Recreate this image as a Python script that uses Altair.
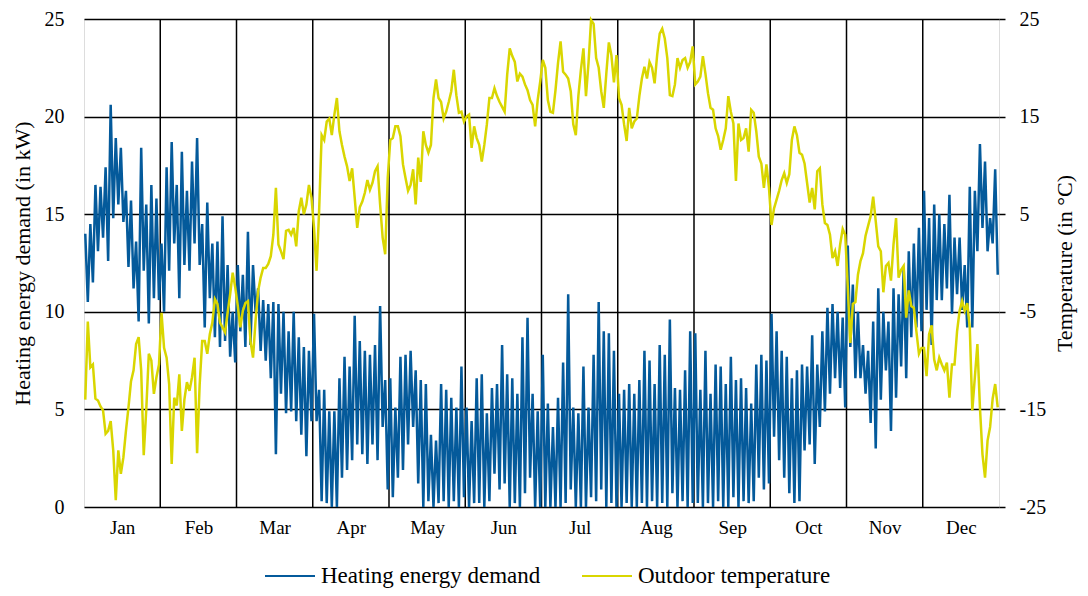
import altair as alt
import pandas as pd

MONTHS = ["Jan", "Feb", "Mar", "Apr", "May", "Jun", "Jul", "Aug", "Sep", "Oct", "Nov", "Dec"]
SERIES = ["Heating energy demand", "Outdoor temperature"]
BLUE = "#045A9B"
YELLOW = "#D9D600"
FONT = "Liberation Serif"

# Heating energy demand (kW): high / low envelope, 15 bins per month
jan_hi = [14.0, 14.5, 16.5, 16.4, 17.4, 20.6, 18.9, 18.4, 16.2, 15.7, 13.6, 18.4, 15.5, 16.5, 15.8]
jan_lo = [10.5, 11.5, 13.1, 13.8, 12.6, 14.8, 15.5, 14.6, 12.3, 11.2, 9.5, 12.1, 9.4, 10.7, 10.6]
feb_hi = [13.5, 17.4, 18.7, 16.5, 18.2, 16.2, 17.7, 18.9, 14.5, 15.6, 13.5, 13.6, 14.9, 12.4, 10.0]
feb_lo = [10.0, 12.1, 13.5, 10.7, 12.4, 12.1, 13.5, 12.4, 9.2, 10.7, 8.7, 8.2, 8.5, 7.7, 7.4]
mar_hi = [12.4, 11.9, 14.1, 12.4, 11.2, 10.6, 10.4, 10.5, 10.4, 10.0, 9.0, 10.0, 8.7, 8.2, 8.0]
mar_lo = [9.0, 8.2, 8.3, 10.0, 8.0, 7.5, 6.6, 2.7, 5.8, 4.8, 4.9, 4.4, 3.7, 2.6, 4.4]
apr_hi = [9.9, 6.0, 6.0, 4.9, 4.9, 6.6, 7.7, 7.2, 9.8, 8.5, 8.0, 7.8, 8.3, 10.3, 6.5]
apr_lo = [4.4, 0.3, 0.2, 0.0, 0.0, 1.5, 1.9, 2.4, 3.2, 2.7, 2.2, 3.2, 2.4, 4.1, 0.9]
may_hi = [6.6, 5.1, 7.7, 7.8, 8.0, 7.0, 6.5, 6.3, 3.7, 3.4, 6.3, 6.0, 5.6, 5.1, 7.2]
may_lo = [0.5, 1.5, 1.9, 3.2, 4.1, 1.2, 0.0, 0.3, 0.0, 0.2, 0.3, 0.0, 0.3, 0.0, 0.5]
jun_hi = [5.1, 4.4, 6.6, 6.8, 4.8, 6.1, 6.3, 8.3, 6.8, 6.6, 5.8, 8.7, 9.7, 5.8, 4.9]
jun_lo = [0.0, 0.2, 0.2, 0.0, 0.3, 1.7, 0.9, 1.2, 0.0, 0.2, 0.0, 0.7, 1.5, 0.0, 0.0]
jul_hi = [7.8, 5.3, 4.1, 5.6, 7.4, 10.9, 5.1, 4.8, 7.2, 5.1, 7.8, 10.5, 9.0, 8.9, 8.0]
jul_lo = [0.0, 0.0, 0.0, 0.0, 0.2, 0.9, 0.0, 0.0, 0.0, 0.5, 0.3, 0.9, 0.0, 0.2, 0.0]
aug_hi = [5.8, 6.0, 6.3, 5.8, 6.5, 8.0, 7.5, 6.3, 8.3, 7.8, 9.6, 6.1, 6.0, 7.0, 9.0]
aug_lo = [0.0, 0.2, 0.0, 0.0, 0.2, 0.0, 0.3, 0.0, 0.2, 0.0, 0.7, 0.0, 0.3, 0.0, 0.2]
sep_hi = [8.9, 6.0, 8.0, 5.8, 7.3, 7.2, 6.3, 7.7, 6.5, 6.6, 6.1, 5.3, 7.3, 7.8, 7.5]
sep_lo = [0.2, 0.0, 0.2, 0.0, 0.3, 0.0, 0.0, 0.5, 0.0, 0.3, 0.2, 0.3, 1.5, 0.9, 1.2]
oct_hi = [9.9, 9.0, 8.0, 7.7, 6.6, 7.0, 7.3, 7.2, 8.8, 7.3, 9.0, 10.2, 10.4, 10.0, 9.7]
oct_lo = [3.6, 2.4, 1.5, 0.7, 0.2, 0.3, 2.9, 3.2, 2.2, 4.1, 4.9, 5.8, 6.6, 6.1, 5.1]
nov_hi = [13.4, 11.4, 10.0, 8.3, 8.0, 9.5, 11.2, 10.0, 9.5, 11.2, 10.9, 12.3, 13.1, 13.5, 14.3]
nov_lo = [8.2, 6.6, 6.6, 5.8, 4.3, 3.0, 5.5, 7.0, 3.9, 5.6, 7.2, 6.6, 8.7, 9.2, 9.0]
dec_hi = [16.2, 14.8, 15.5, 15.0, 14.5, 16.0, 13.8, 13.8, 12.4, 16.4, 16.2, 18.6, 17.7, 14.8, 17.3]
dec_lo = [10.1, 8.3, 10.6, 10.6, 11.2, 9.9, 10.9, 10.1, 9.2, 9.2, 13.1, 14.3, 13.1, 13.5, 11.9]

# Outdoor temperature (°C), 30 samples per month
jan_t = [-14.0, -6.0, -10.7, -10.4, -13.9, -14.1, -14.7, -15.1, -17.5, -17.2, -16.2, -19.2, -24.3, -19.2, -21.6,
         -19.9, -17.2, -14.8, -12.1, -11.0, -8.3, -7.6, -11.0, -19.7, -15.0, -9.3, -10.0, -13.4, -11.7, -10.4]
feb_t = [-5.1, -8.7, -9.7, -12.4, -20.6, -13.8, -14.6, -11.4, -17.2, -14.0, -12.2, -13.1, -11.7, -9.7, -19.5,
         -12.5, -8.0, -8.0, -9.3, -7.3, -6.1, -3.7, -4.2, -6.1, -6.6, -7.1, -5.1, -3.2, -1.0, -2.5]
mar_t = [-4.4, -6.6, -4.9, -4.1, -3.9, -8.0, -9.7, -5.9, -2.9, -1.5, -0.5, -0.5, -0.1, 0.7, 2.9,
         7.7, 1.9, 1.2, 0.4, 3.3, 3.4, 2.9, 3.6, 1.7, 5.3, 6.7, 5.0, 6.0, 8.0, 6.7]
apr_t = [3.6, -0.8, 5.3, 13.1, 12.6, 14.5, 14.8, 13.1, 15.2, 16.9, 13.5, 12.1, 10.9, 9.9, 8.4,
         9.7, 6.7, 3.6, 5.7, 6.3, 7.2, 8.5, 7.5, 8.2, 9.4, 9.9, 6.0, 2.6, 0.9, 8.7]
may_t = [12.6, 12.8, 14.0, 14.0, 13.0, 10.1, 8.7, 7.4, 8.0, 9.6, 6.0, 10.8, 8.3, 13.5, 12.1,
         11.3, 12.1, 16.9, 18.8, 16.9, 16.5, 14.8, 15.5, 16.5, 17.6, 19.8, 17.2, 15.4, 15.5, 14.5]
jun_t = [15.0, 15.2, 11.8, 14.0, 12.8, 12.1, 10.4, 12.1, 14.2, 16.9, 16.9, 17.9, 17.1, 16.5, 16.0,
         15.5, 19.3, 22.0, 21.2, 20.6, 18.6, 19.4, 19.1, 18.3, 17.7, 16.7, 16.2, 14.0, 16.7, 18.6]
jul_t = [20.8, 20.0, 16.7, 15.5, 15.4, 17.7, 20.5, 22.7, 19.6, 19.3, 18.9, 17.6, 14.2, 13.1, 17.1,
         19.8, 22.0, 17.1, 20.5, 24.9, 24.5, 21.0, 20.0, 17.6, 15.9, 19.4, 22.6, 21.3, 18.5, 21.3]
aug_t = [16.9, 16.2, 14.2, 12.5, 15.9, 13.8, 14.5, 14.8, 17.1, 18.9, 20.1, 18.9, 20.6, 20.0, 18.4,
         21.3, 23.5, 24.0, 23.0, 21.0, 17.2, 17.1, 18.3, 21.0, 20.0, 20.8, 21.0, 20.0, 20.6, 22.2]
sep_t = [18.3, 18.6, 19.1, 21.2, 19.4, 17.4, 15.9, 15.7, 13.8, 13.0, 11.6, 12.6, 13.8, 17.1, 15.5,
         14.3, 8.4, 14.3, 12.6, 12.8, 13.8, 11.4, 15.7, 15.4, 13.5, 10.9, 10.2, 7.7, 10.1, 7.7]
oct_t = [3.9, 5.6, 6.5, 7.4, 8.5, 9.2, 8.2, 9.1, 12.6, 14.0, 13.1, 11.3, 11.1, 10.2, 8.2,
         6.2, 7.7, 5.5, 9.4, 9.7, 6.0, 4.1, 3.9, 2.9, 0.5, 1.2, -0.3, 1.9, 3.5, 2.9]
nov_t = [-2.5, -8.2, -4.2, -4.0, -1.2, 0.2, 1.0, 2.8, 3.8, 4.8, 6.8, 4.3, 1.7, 1.2, -3.0,
         -0.3, 0.0, -1.8, 1.9, 4.6, -1.5, -0.7, -0.3, -5.6, -2.8, -4.4, -4.6, -7.0, -9.3, -8.7]
dec_t = [-8.7, -11.6, -7.3, -6.4, -9.9, -11.0, -9.7, -10.4, -11.0, -10.2, -13.8, -10.4, -10.4, -7.0, -4.9,
         -3.9, -4.9, -4.1, -6.6, -15.1, -11.7, -8.3, -14.8, -19.6, -22.0, -18.2, -16.8, -13.9, -12.4, -14.8]

KW_TICKS = [0, 5, 10, 15, 20, 25]
TEMP_TICKS = [-25, -15, -5, 5, 15, 25]
MONTH_BOUNDS = [1, 2, 3, 4, 5, 6, 7, 8, 9, 10, 11]

heat_hi = [jan_hi, feb_hi, mar_hi, apr_hi, may_hi, jun_hi, jul_hi, aug_hi, sep_hi, oct_hi, nov_hi, dec_hi]
heat_lo = [jan_lo, feb_lo, mar_lo, apr_lo, may_lo, jun_lo, jul_lo, aug_lo, sep_lo, oct_lo, nov_lo, dec_lo]
temps = [jan_t, feb_t, mar_t, apr_t, may_t, jun_t, jul_t, aug_t, sep_t, oct_t, nov_t, dec_t]

heat_rows = []
for m, (his, los) in enumerate(zip(heat_hi, heat_lo)):
    n = len(his)
    for j, (h, l) in enumerate(zip(his, los)):
        heat_rows.append({"m": m + (j + 0.25) / n, "kw": h, "series": SERIES[0]})
        heat_rows.append({"m": m + (j + 0.75) / n, "kw": l, "series": SERIES[0]})
heat_df = pd.DataFrame(heat_rows)

temp_rows = []
for m, vals in enumerate(temps):
    n = len(vals)
    for k, v in enumerate(vals):
        temp_rows.append({"m": m + (k + 0.5) / n, "temp": v, "series": SERIES[1]})
temp_df = pd.DataFrame(temp_rows)

bounds_df = pd.DataFrame({"m": MONTH_BOUNDS})

month_js = "[" + ",".join("'%s'" % s for s in MONTHS) + "]"
x_scale = alt.Scale(domain=[0, 12], nice=False, zero=False)
x_axis = alt.Axis(
    values=[i + 0.5 for i in range(12)],
    labelExpr=month_js + "[floor(datum.value)]",
    grid=False, ticks=False, domain=False, title=None,
    labelFont=FONT, labelFontSize=19, labelColor="black", labelPadding=11,
)
x_enc = alt.X("m:Q", scale=x_scale, axis=x_axis)

color_scale = alt.Scale(domain=SERIES, range=[BLUE, YELLOW])
legend = alt.Legend(
    orient="none", direction="horizontal", legendX=180, legendY=531, title=None,
    labelFont=FONT, labelFontSize=23, labelColor="black", labelOffset=5, labelLimit=0,
    symbolType="stroke", symbolSize=2500, symbolStrokeWidth=2, columnPadding=37,
)

rules = alt.Chart(bounds_df).mark_rule(color="black", strokeWidth=1.5).encode(x=x_enc)

heat = alt.Chart(heat_df).mark_line(strokeWidth=2.5).encode(
    x=x_enc,
    y=alt.Y("kw:Q", scale=alt.Scale(domain=[0, 25], nice=False),
            axis=alt.Axis(orient="left", values=KW_TICKS, grid=True, gridColor="black", gridWidth=1.5,
                          gridOpacity=1, ticks=False, domain=False,
                          labelFont=FONT, labelFontSize=20, labelColor="black", labelPadding=20,
                          title="Heating energy demand (in kW)", titleFont=FONT, titleFontSize=22,
                          titleFontWeight="normal", titleColor="black", titlePadding=10)),
    color=alt.Color("series:N", scale=color_scale, legend=legend),
)

temp = alt.Chart(temp_df).mark_line(strokeWidth=2.5).encode(
    x=x_enc,
    y=alt.Y("temp:Q", scale=alt.Scale(domain=[-25, 25], nice=False),
            axis=alt.Axis(orient="right", values=TEMP_TICKS, grid=False, ticks=True, tickSize=6,
                          tickColor="black", tickWidth=1.5, domain=False,
                          labelExpr="datum.value + ''",
                          labelFont=FONT, labelFontSize=20, labelColor="black", labelPadding=14,
                          title="Temperature (in °C)", titleFont=FONT, titleFontSize=22,
                          titleFontWeight="normal", titleColor="black", titlePadding=9,
                          titleAngle=270, titleBaseline="top")),
    color=alt.Color("series:N", scale=color_scale, legend=legend),
)

chart = (
    alt.layer(rules, heat, temp)
    .resolve_scale(y="independent")
    .properties(
        width=915, height=488,
        autosize=alt.AutoSizeParams(type="none"),
        padding={"left": 76, "top": 11, "right": 81, "bottom": 81},
    )
    .configure_view(stroke="black", strokeWidth=1.5)
    .configure(background="white")
)

chart.save("out.html", embed_options={"renderer": "svg", "actions": False})
